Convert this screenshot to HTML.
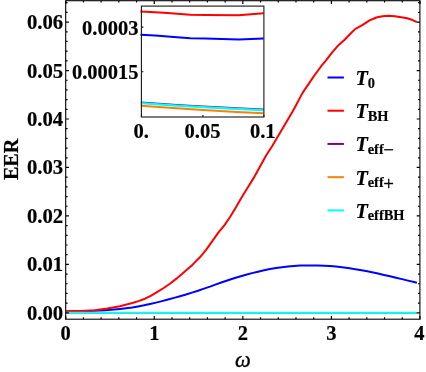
<!DOCTYPE html>
<html><head><meta charset="utf-8"><title>EER plot</title>
<style>
html,body{margin:0;padding:0;background:#fff;}
body{width:426px;height:372px;overflow:hidden;}
svg{display:block;will-change:transform;}
text{font-family:"Liberation Serif",serif;}
.b{font-weight:bold;font-size:20.4px;fill:#000;stroke:#000;stroke-width:0.2px;}
.s{font-weight:bold;font-size:14.4px;fill:#000;stroke:#000;stroke-width:0.15px;}
.op{font-weight:normal;font-size:18.3px;stroke-width:0.4px;}
.ti{font-weight:bold;font-style:italic;font-size:20.2px;fill:#000;stroke:#000;stroke-width:0.2px;}
</style></head><body>
<svg width="426" height="372" viewBox="0 0 426 372">

<g fill="none" stroke-width="2" stroke-linejoin="round" stroke-linecap="butt">
<path d="M66.3,311.8 L72.0,311.7 L78.0,311.6 L84.0,311.4 L90.0,311.1 L96.0,310.8 L102.0,310.5 L108.0,310.1 L114.0,309.6 L120.0,309.0 L126.0,308.3 L132.0,307.5 L138.0,306.4 L144.0,305.3 L150.0,304.0 L156.0,302.6 L162.0,301.1 L168.0,299.5 L174.0,297.9 L180.0,296.2 L186.0,294.5 L192.0,292.6 L198.0,290.7 L204.0,288.6 L210.0,286.6 L216.0,284.4 L222.0,282.3 L228.0,280.3 L234.0,278.3 L240.0,276.5 L246.0,274.7 L252.0,273.1 L258.0,271.7 L264.0,270.3 L270.0,269.1 L276.0,268.1 L282.0,267.2 L288.0,266.5 L294.0,266.0 L300.0,265.6 L306.0,265.4 L312.0,265.4 L318.0,265.4 L324.0,265.7 L330.0,266.1 L336.0,266.6 L342.0,267.3 L348.0,268.1 L354.0,269.0 L360.0,270.0 L366.0,271.1 L372.0,272.3 L378.0,273.6 L384.0,274.9 L390.0,276.3 L396.0,277.7 L402.0,279.1 L408.0,280.6 L414.0,282.0 L416.9,282.7" stroke="#0000ff"/>
<path d="M66.3,311.1 L80.0,311.0 L95.0,310.2 L107.4,308.6 L119.9,306.2 L132.3,303.0 L138.5,301.1 L145.0,298.7 L151.2,295.6 L157.4,291.9 L163.7,288.0 L169.9,283.7 L176.1,278.9 L182.3,273.8 L188.5,268.3 L191.8,265.5 L194.8,262.4 L199.9,257.3 L206.1,249.9 L212.3,241.1 L218.5,232.4 L224.5,225.1 L229.9,217.3 L236.1,207.1 L242.3,196.2 L248.7,186.0 L253.7,177.9 L259.9,166.7 L266.1,155.5 L272.4,145.7 L279.9,133.0 L286.1,122.4 L292.3,112.1 L296.3,104.8 L299.1,99.4 L302.4,93.1 L308.5,84.1 L313.2,77.1 L318.4,70.0 L322.0,65.2 L326.0,60.4 L332.4,52.2 L338.7,44.9 L344.9,39.5 L351.1,33.0 L355.4,28.9 L362.3,25.2 L367.3,21.8 L370.0,20.1 L373.0,19.0 L376.2,17.5 L382.4,16.2 L388.7,15.7 L394.9,16.2 L401.1,17.2 L407.3,18.3 L411.7,19.7 L416.8,22.1" stroke="#ff0000"/>
<path d="M66.3,312.75 L417,312.75" stroke="#800080" stroke-width="1.3"/>
<path d="M66.3,312.8 L417,312.8" stroke="#ff8000" stroke-width="1.3"/>
<path d="M66.3,312.75 L417,312.75" stroke="#00ffff" stroke-width="2.1"/>
</g>
<g stroke="#000" stroke-width="1.1" fill="none">
<rect x="65.7" y="0.7" width="354.2" height="318.5"/>
<path d="M65.70,319.2 v-3.2 M65.70,0.7 v3.2 M83.41,319.2 v-1.9 M83.41,0.7 v1.9 M101.13,319.2 v-1.9 M101.13,0.7 v1.9 M118.84,319.2 v-1.9 M118.84,0.7 v1.9 M136.56,319.2 v-1.9 M136.56,0.7 v1.9 M154.27,319.2 v-3.2 M154.27,0.7 v3.2 M171.98,319.2 v-1.9 M171.98,0.7 v1.9 M189.70,319.2 v-1.9 M189.70,0.7 v1.9 M207.41,319.2 v-1.9 M207.41,0.7 v1.9 M225.13,319.2 v-1.9 M225.13,0.7 v1.9 M242.84,319.2 v-3.2 M242.84,0.7 v3.2 M260.55,319.2 v-1.9 M260.55,0.7 v1.9 M278.27,319.2 v-1.9 M278.27,0.7 v1.9 M295.98,319.2 v-1.9 M295.98,0.7 v1.9 M313.70,319.2 v-1.9 M313.70,0.7 v1.9 M331.41,319.2 v-3.2 M331.41,0.7 v3.2 M349.12,319.2 v-1.9 M349.12,0.7 v1.9 M366.84,319.2 v-1.9 M366.84,0.7 v1.9 M384.55,319.2 v-1.9 M384.55,0.7 v1.9 M402.27,319.2 v-1.9 M402.27,0.7 v1.9 M419.98,319.2 v-3.2 M419.98,0.7 v3.2 M65.7,312.85 h3.2 M419.9,312.85 h-3.2 M65.7,303.16 h1.9 M419.9,303.16 h-1.9 M65.7,293.47 h1.9 M419.9,293.47 h-1.9 M65.7,283.77 h1.9 M419.9,283.77 h-1.9 M65.7,274.08 h1.9 M419.9,274.08 h-1.9 M65.7,264.39 h3.2 M419.9,264.39 h-3.2 M65.7,254.70 h1.9 M419.9,254.70 h-1.9 M65.7,245.01 h1.9 M419.9,245.01 h-1.9 M65.7,235.31 h1.9 M419.9,235.31 h-1.9 M65.7,225.62 h1.9 M419.9,225.62 h-1.9 M65.7,215.93 h3.2 M419.9,215.93 h-3.2 M65.7,206.24 h1.9 M419.9,206.24 h-1.9 M65.7,196.55 h1.9 M419.9,196.55 h-1.9 M65.7,186.85 h1.9 M419.9,186.85 h-1.9 M65.7,177.16 h1.9 M419.9,177.16 h-1.9 M65.7,167.47 h3.2 M419.9,167.47 h-3.2 M65.7,157.78 h1.9 M419.9,157.78 h-1.9 M65.7,148.09 h1.9 M419.9,148.09 h-1.9 M65.7,138.39 h1.9 M419.9,138.39 h-1.9 M65.7,128.70 h1.9 M419.9,128.70 h-1.9 M65.7,119.01 h3.2 M419.9,119.01 h-3.2 M65.7,109.32 h1.9 M419.9,109.32 h-1.9 M65.7,99.63 h1.9 M419.9,99.63 h-1.9 M65.7,89.93 h1.9 M419.9,89.93 h-1.9 M65.7,80.24 h1.9 M419.9,80.24 h-1.9 M65.7,70.55 h3.2 M419.9,70.55 h-3.2 M65.7,60.86 h1.9 M419.9,60.86 h-1.9 M65.7,51.17 h1.9 M419.9,51.17 h-1.9 M65.7,41.47 h1.9 M419.9,41.47 h-1.9 M65.7,31.78 h1.9 M419.9,31.78 h-1.9 M65.7,22.09 h3.2 M419.9,22.09 h-3.2 M65.7,12.40 h1.9 M419.9,12.40 h-1.9 M65.7,2.71 h1.9 M419.9,2.71 h-1.9" stroke-width="1.2"/>
</g>
<text class="b" transform="translate(63.10,319.80) scale(1,1.05)" text-anchor="end" style="font-size:20.7px">0.00</text>
<text class="b" transform="translate(63.10,271.34) scale(1,1.05)" text-anchor="end" style="font-size:20.7px">0.01</text>
<text class="b" transform="translate(63.10,222.88) scale(1,1.05)" text-anchor="end" style="font-size:20.7px">0.02</text>
<text class="b" transform="translate(63.10,174.42) scale(1,1.05)" text-anchor="end" style="font-size:20.7px">0.03</text>
<text class="b" transform="translate(63.10,125.96) scale(1,1.05)" text-anchor="end" style="font-size:20.7px">0.04</text>
<text class="b" transform="translate(63.10,77.50) scale(1,1.05)" text-anchor="end" style="font-size:20.7px">0.05</text>
<text class="b" transform="translate(63.10,29.04) scale(1,1.05)" text-anchor="end" style="font-size:20.7px">0.06</text>
<text class="b" transform="translate(65.70,339.60) scale(1,1.03)" text-anchor="middle" style="font-size:20.5px">0</text>
<text class="b" transform="translate(154.27,339.60) scale(1,1.03)" text-anchor="middle" style="font-size:20.5px">1</text>
<text class="b" transform="translate(242.84,339.60) scale(1,1.03)" text-anchor="middle" style="font-size:20.5px">2</text>
<text class="b" transform="translate(331.41,339.60) scale(1,1.03)" text-anchor="middle" style="font-size:20.5px">3</text>
<text class="b" transform="translate(419.28,339.60) scale(1,1.03)" text-anchor="middle" style="font-size:20.5px">4</text>
<text class="b" transform="translate(18.4,159.4) rotate(-90)" text-anchor="middle" style="font-size:20.1px">EER</text>
<text x="242.9" y="367.2" text-anchor="middle" style="font-style:italic;font-size:22.3px;stroke:#000;stroke-width:0.3px">ω</text>
<g fill="none" stroke-width="2" stroke-linejoin="round">
<path d="M140.5,34.8 L155.1,35.5 L167.7,36.5 L180.3,37.5 L190.3,38.3 L205.4,38.5 L238.6,39.5 L263.6,38.6" stroke="#0000ff"/>
<path d="M140.5,11.5 L155.1,12.3 L167.7,13.1 L180.3,14.0 L190.3,14.8 L205.4,15.0 L238.6,15.3 L263.6,13.3" stroke="#ff0000"/>
<path d="M140.8,102.4 L180.3,105.1 L202.9,106.4 L236.8,108.1 L263.6,109.3" stroke="#800080" stroke-width="1.7"/>
<path d="M140.8,105.8 L180.3,108.6 L202.9,110.1 L236.8,112.0 L263.6,113.2" stroke="#ff8000" stroke-width="2"/>
<path d="M140.8,103.2 L180.3,105.9 L202.9,107.2 L236.8,108.9 L263.6,110.1" stroke="#00ffff" stroke-width="2.2"/>
</g>
<g stroke="#151515" stroke-width="1.1" fill="none">
<rect x="141.4" y="6.1" width="122.49999999999997" height="110.9"/>
<path d="M141.4,27.1 h2 M141.4,71.7 h2 M141.4,117.0 v-2 M202.9,117.0 v-2 M263.9,117.0 v-2"/>
</g>
<text class="b" transform="translate(138.40,34.80) scale(1,1.04)" text-anchor="end" style="font-size:20.5px">0.0003</text>
<text class="b" transform="translate(138.40,79.40) scale(1,1.04)" text-anchor="end" style="font-size:20.45px">0.00015</text>
<text class="b" transform="translate(141.20,137.70) scale(1,1.02)" text-anchor="middle" style="font-size:20.6px">0.</text>
<text class="b" transform="translate(202.60,137.70) scale(1,1.02)" text-anchor="middle" style="font-size:20.6px">0.05</text>
<text class="b" transform="translate(262.80,137.70) scale(1,1.02)" text-anchor="middle" style="font-size:20.6px">0.1</text>
<path d="M327.5,77.50 h16.4" stroke="#0000ff" stroke-width="2" fill="none"/>
<text x="355.5" y="84.9"><tspan class="ti">T</tspan><tspan class="s" dx="-0.1" dy="2.6">0</tspan></text>
<path d="M327.5,110.72 h16.4" stroke="#ff0000" stroke-width="2" fill="none"/>
<text x="355.5" y="118.1"><tspan class="ti">T</tspan><tspan class="s" dx="-0.1" dy="2.6">BH</tspan></text>
<path d="M327.5,143.94 h16.4" stroke="#800080" stroke-width="2" fill="none"/>
<text x="355.5" y="151.3"><tspan class="ti">T</tspan><tspan class="s" dx="-0.1" dy="2.6">eff<tspan class="op" dx="-0.3" dy="2.5">−</tspan></tspan></text>
<path d="M327.5,177.16 h16.4" stroke="#ff8000" stroke-width="2" fill="none"/>
<text x="355.5" y="184.6"><tspan class="ti">T</tspan><tspan class="s" dx="-0.1" dy="2.6">eff<tspan class="op" dx="-0.3" dy="2.5">+</tspan></tspan></text>
<path d="M327.5,210.38 h16.4" stroke="#00ffff" stroke-width="2" fill="none"/>
<text x="355.5" y="217.8"><tspan class="ti">T</tspan><tspan class="s" dx="-0.1" dy="2.6">effBH</tspan></text>
</svg></body></html>
